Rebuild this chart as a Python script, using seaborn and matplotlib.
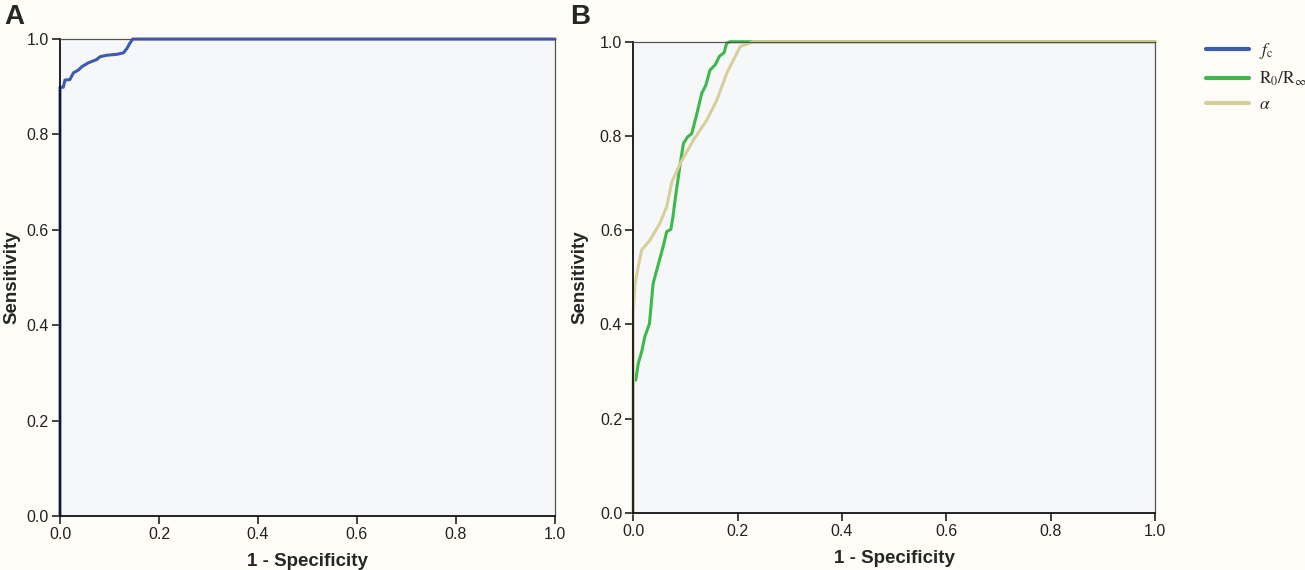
import numpy as np
import pandas as pd
import matplotlib
matplotlib.use("Agg")
import matplotlib.pyplot as plt
import seaborn as sns
from matplotlib.lines import Line2D

# ROC curve points
fc_fpr = [0.0, 0.0, 0.0067, 0.010, 0.020, 0.027, 0.037, 0.044, 0.057, 0.074, 0.081,
          0.094, 0.115, 0.128, 0.135, 0.141, 0.147, 1.0]
fc_tpr = [0.0, 0.899, 0.899, 0.914, 0.915, 0.929, 0.935, 0.942, 0.950, 0.957, 0.963,
          0.966, 0.968, 0.971, 0.980, 0.991, 1.0, 1.0]

r0_fpr = [0.0, 0.0, 0.0046, 0.0096, 0.016, 0.022, 0.031, 0.035, 0.038, 0.045, 0.051,
          0.058, 0.064, 0.072, 0.076, 0.080, 0.090, 0.096, 0.104, 0.112, 0.122,
          0.131, 0.139, 0.147, 0.157, 0.165, 0.174, 0.179, 0.185, 1.0]
r0_tpr = [0.0, 0.282, 0.282, 0.318, 0.342, 0.374, 0.402, 0.452, 0.487, 0.516, 0.540,
          0.569, 0.597, 0.602, 0.629, 0.664, 0.742, 0.784, 0.798, 0.805, 0.848,
          0.890, 0.908, 0.940, 0.951, 0.969, 0.977, 0.997, 1.0, 1.0]

alpha_fpr = [0.0, 0.0, 0.0033, 0.0096, 0.016, 0.032, 0.051, 0.064, 0.074, 0.090,
             0.115, 0.141, 0.160, 0.179, 0.205, 0.230, 1.0]
alpha_tpr = [0.0, 0.431, 0.487, 0.523, 0.558, 0.579, 0.615, 0.650, 0.703, 0.742,
             0.791, 0.834, 0.876, 0.933, 0.990, 1.0, 1.0]

series_names = [r"$f_\mathrm{c}$", r"$\mathrm{R_0/R_\infty}$", r"$\alpha$"]
colors = ["#3b5bb4", "#3db94b", "#d6cf9a"]
ticks = [0.0, 0.2, 0.4, 0.6, 0.8, 1.0]

sns.set_style("ticks")
plt.rcParams["font.family"] = ["Liberation Sans", "DejaVu Sans"]
plt.rcParams["mathtext.fontset"] = "stix"

fig = plt.figure(figsize=(13.05, 5.7), dpi=100)
fig.patch.set_facecolor("#fefdf8")

ax_a = fig.add_axes([0.04598, 0.0947, 0.3793, 0.8368])
ax_b = fig.add_axes([0.4853, 0.1, 0.3998, 0.8268])


def make_df(fpr, tpr, name):
    return pd.DataFrame({"fpr": fpr, "tpr": tpr, "series": name,
                         "order": np.arange(len(fpr))})


df_a = make_df(fc_fpr, fc_tpr, series_names[0])
df_b = pd.concat([make_df(r0_fpr, r0_tpr, series_names[1]),
                  make_df(alpha_fpr, alpha_tpr, series_names[2])])

sns.lineplot(data=df_a, x="fpr", y="tpr", hue="series", palette=[colors[0]],
             sort=False, estimator=None, lw=2.2, legend=False, ax=ax_a,
             clip_on=False)
sns.lineplot(data=df_b, x="fpr", y="tpr", hue="series", palette=colors[1:],
             sort=False, estimator=None, lw=2.2, legend=False, ax=ax_b,
             clip_on=False)

for ax, letter, lx, lpad in [(ax_a, "A", 0.003, 4), (ax_b, "B", 0.437, 8)]:
    ax.set_facecolor("#f6f7f9")
    ax.set_xlim(0, 1)
    ax.set_ylim(0, 1)
    ax.set_xticks(ticks)
    ax.set_yticks(ticks)
    ax.set_xticklabels([f"{t:.1f}" for t in ticks])
    ax.set_yticklabels([f"{t:.1f}" for t in ticks])
    ax.tick_params(direction="out", length=6, width=1.2, labelsize=11.5,
                   colors="#222222", pad=2)
    for side in ["left", "bottom"]:
        ax.spines[side].set_linewidth(1.3)
        ax.spines[side].set_color("#111111")
    for side in ["top", "right"]:
        ax.spines[side].set_visible(True)
        ax.spines[side].set_linewidth(0.9)
        ax.spines[side].set_color("#555555")
    ax.set_xlabel("1 - Specificity", fontsize=13.5, fontweight="bold", labelpad=8)
    ax.set_ylabel("Sensitivity", fontsize=13.5, fontweight="bold", labelpad=lpad)
    fig.text(lx, 0.97, letter, fontsize=20, fontweight="bold", va="center")

handles = [Line2D([], [], color=c, lw=3) for c in colors]
fig.legend(handles, series_names, loc="upper left", bbox_to_anchor=(0.924, 0.928),
           frameon=False, handlelength=2.5, handletextpad=0.55, borderpad=0,
           borderaxespad=0, labelspacing=0.5,
           prop={"family": "Liberation Serif", "size": 12.5})

fig.savefig("out.png", dpi=100, facecolor=fig.get_facecolor())
